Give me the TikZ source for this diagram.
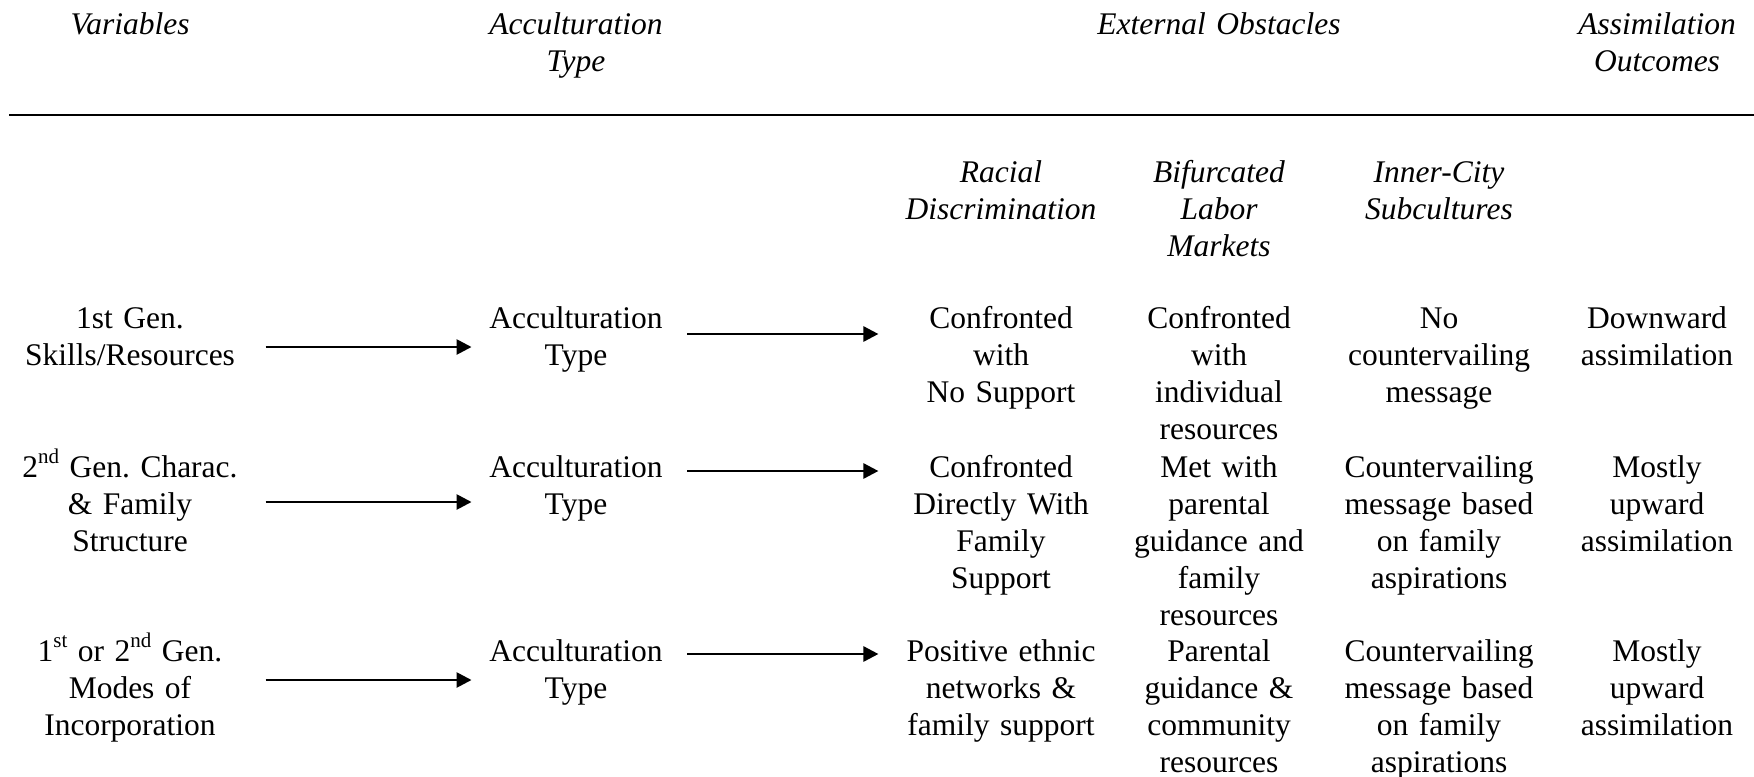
\documentclass[tikz,border=0pt]{standalone}
\usepackage{fontspec}
\setmainfont{Liberation Serif}
\usetikzlibrary{arrows.meta}
\frenchspacing
\newcommand{\ordsup}[1]{\raisebox{5pt}{\fontsize{8}{8}\selectfont #1}}

\begin{document}
\begin{tikzpicture}[x=0.381pt,y=-0.381pt,
    every node/.style={anchor=base,inner sep=0pt,align=center,text width=80pt,font=\fontsize{12}{14.1}\selectfont},
    >={Triangle[length=5.7pt,width=5.7pt]}]
    \tikzstyle{head}=[font=\fontsize{12}{14.1}\selectfont\itshape]
    \tikzstyle{varcol}=[text width=102.9pt]
    \tikzstyle{acccol}=[text width=79.2pt]
    \tikzstyle{obscol}=[text width=93pt]

    \useasboundingbox (0,0) rectangle (1754,776);

    % column heads
    \node[head] (hVar) at (130,34) {Variables};
    \node[head] (hAcc) at (576,34) {Acculturation\\Type};
    \node[head,text width=120pt] (hObs) at (1219,34) {External Obstacles};
    \node[head] (hOut) at (1657,34) {Assimilation\\Outcomes};
    \draw[line width=0.9pt] (9,115) -- (1754,115);

    \node[head] (hRac) at (1001,182) {Racial\\Discrimination};
    \node[head] (hLab) at (1219,182) {Bifurcated\\Labor\\Markets};
    \node[head] (hSub) at (1439,182) {Inner-City\\Subcultures};

    % row 1
    \node[varcol] (var1) at (130,328) {1st Gen.\\Skills/Resources};
    \node[acccol] (acc1) at (576,328) {Acculturation\\Type};
    \node[obscol] (rac1) at (1001,328) {Confronted\\with\\No Support};
    \node (lab1) at (1219,328) {Confronted\\with\\individual\\resources};
    \node (sub1) at (1439,328) {No\\countervailing\\message};
    \node (out1) at (1657,328) {Downward\\assimilation};

    % row 2
    \node[varcol] (var2) at (130,477) {2\ordsup{nd} Gen. Charac.\\\& Family\\Structure};
    \node[acccol] (acc2) at (576,477) {Acculturation\\Type};
    \node[obscol] (rac2) at (1001,477) {Confronted\\Directly With\\Family\\Support};
    \node (lab2) at (1219,477) {Met with\\parental\\guidance and\\family\\resources};
    \node (sub2) at (1439,477) {Countervailing\\message based\\on family\\aspirations};
    \node (out2) at (1657,477) {Mostly\\upward\\assimilation};

    % row 3
    \node[varcol] (var3) at (130,661) {1\ordsup{st} or 2\ordsup{nd} Gen.\\Modes of\\Incorporation};
    \node[acccol] (acc3) at (576,661) {Acculturation\\Type};
    \node[obscol] (rac3) at (1001,661) {Positive ethnic\\networks \&\\family support};
    \node (lab3) at (1219,661) {Parental\\guidance \&\\community\\resources};
    \node (sub3) at (1439,661) {Countervailing\\message based\\on family\\aspirations};
    \node (out3) at (1657,661) {Mostly\\upward\\assimilation};

    \path[->,line width=1pt]
    ([shift={(0,19)}]var1.base east) edge ([shift={(0,19)}]acc1.base west)
    ([shift={(7,6)}]acc1.base east) edge ([shift={(0,6)}]rac1.base west)
    ([shift={(0,25)}]var2.base east) edge ([shift={(0,25)}]acc2.base west)
    ([shift={(7,-6)}]acc2.base east) edge ([shift={(0,-6)}]rac2.base west)
    ([shift={(0,19)}]var3.base east) edge ([shift={(0,19)}]acc3.base west)
    ([shift={(7,-7)}]acc3.base east) edge ([shift={(0,-7)}]rac3.base west)
    ;

\end{tikzpicture}
\end{document}
